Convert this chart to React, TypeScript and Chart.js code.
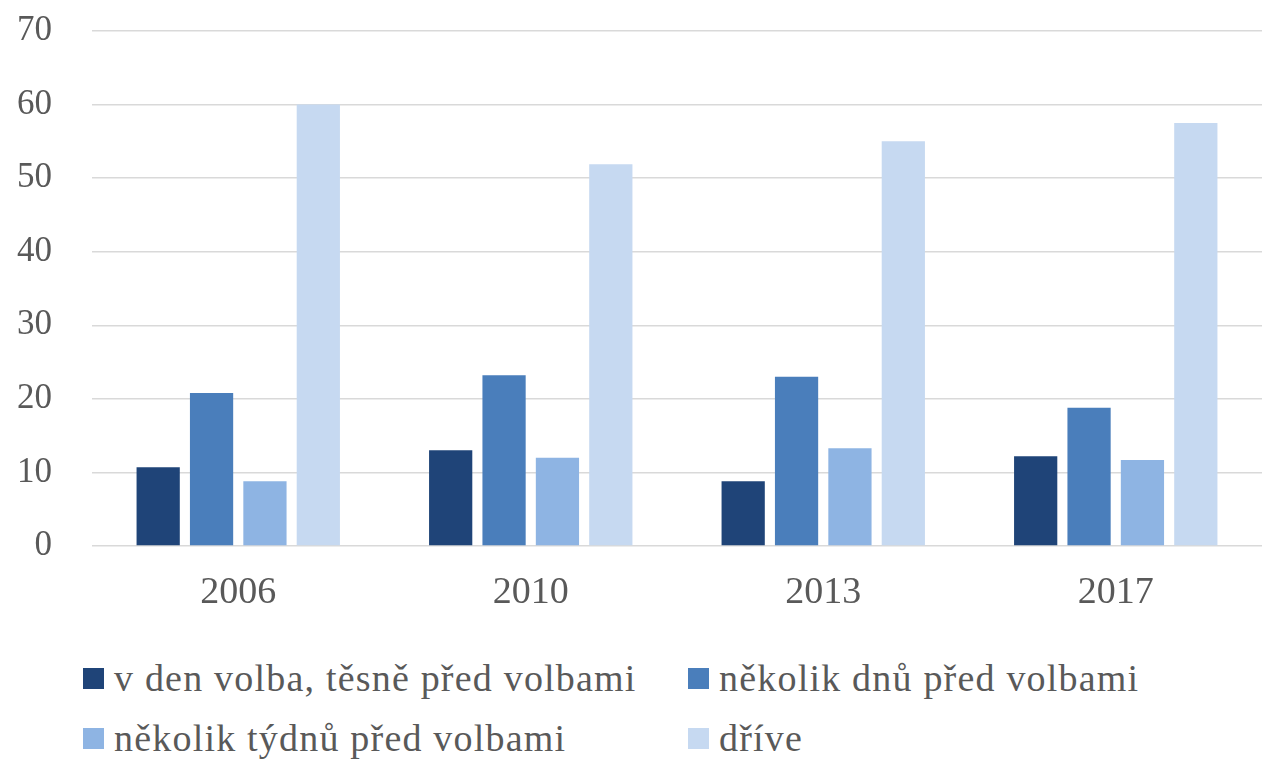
import React, { useEffect, useRef } from "react";
import { Chart, registerables } from "chart.js";

Chart.register(...registerables);

const categories = ["2006", "2010", "2013", "2017"];
const seriesNames = [
  "v den volba, těsně před volbami",
  "několik dnů před volbami",
  "několik týdnů před volbami",
  "dříve",
];
const dayOf = [10.7, 13.0, 8.8, 12.2];
const daysBefore = [20.8, 23.2, 23.0, 18.8];
const weeksBefore = [8.8, 12.0, 13.3, 11.7];
const earlier = [60.0, 51.9, 55.0, 57.5];
const colors = ["#1F4478", "#4A7EBB", "#8EB4E3", "#C6D9F1"];
const yTicks = [0, 10, 20, 30, 40, 50, 60, 70];

const FONT = '"Liberation Serif", "Times New Roman", serif';
const TEXT = "#595959";

export default function App() {
  const ref = useRef<HTMLCanvasElement | null>(null);

  useEffect(() => {
    document.documentElement.style.overflow = "hidden";
    document.body.style.overflow = "hidden";
    if (!ref.current) return;
    const values = [dayOf, daysBefore, weeksBefore, earlier];
    const chart = new Chart(ref.current, {
      type: "bar",
      data: {
        labels: categories,
        datasets: values.map((v, i) => ({
          label: seriesNames[i],
          data: v,
          backgroundColor: colors[i],
          borderWidth: 0,
          categoryPercentage: 0.73,
          barPercentage: 0.81,
        })),
      },
      options: {
        animation: false,
        responsive: false,
        maintainAspectRatio: false,
        layout: { padding: { top: 23, right: 4, left: 0, bottom: 0 } },
        plugins: {
          legend: { display: false },
          tooltip: { enabled: false },
        },
        scales: {
          x: {
            grid: { display: false, drawTicks: false },
            border: { display: false },
            ticks: {
              color: TEXT,
              font: { family: FONT, size: 38 },
              padding: 24,
            },
            afterFit: (s: any) => {
              s.height = 70;
              s.paddingLeft = 0;
              s.paddingRight = 0;
            },
          },
          y: {
            min: 0,
            max: 70,
            afterBuildTicks: (s: any) => {
              s.ticks = yTicks.map((v) => ({ value: v }));
            },
            grid: { color: "#D9D9D9", lineWidth: 1.5, drawTicks: false },
            border: { display: false },
            ticks: {
              color: TEXT,
              font: { family: FONT, size: 35 },
              padding: 40,
            },
            afterFit: (s: any) => {
              s.width = 84;
              s.paddingTop = 0;
              s.paddingBottom = 0;
            },
          },
        },
      },
    });
    return () => chart.destroy();
  }, []);

  const legendItem = (i: number) => (
    <div
      key={i}
      style={{
        display: "flex",
        alignItems: "center",
        color: TEXT,
        fontFamily: FONT,
        fontSize: 38,
        letterSpacing: "1.2px",
        lineHeight: "40px",
        whiteSpace: "nowrap",
      }}
    >
      <span
        style={{
          display: "inline-block",
          width: 21,
          height: 21,
          background: colors[i],
          marginRight: 10,
        }}
      />
      {seriesNames[i]}
    </div>
  );

  const pos = (left: number, top: number): React.CSSProperties => ({
    position: "absolute",
    left,
    top,
    height: 40,
    display: "flex",
    alignItems: "center",
  });

  return (
    <div style={{ position: "relative", width: 1258, height: 751 }}>
      <canvas
        ref={ref}
        width={1258}
        height={608}
        style={{ position: "absolute", left: 0, top: 0, width: 1258, height: 608 }}
      />
      <div style={pos(75, 650)}>{legendItem(0)}</div>
      <div style={pos(680, 650)}>{legendItem(1)}</div>
      <div style={pos(75, 710)}>{legendItem(2)}</div>
      <div style={pos(680, 710)}>{legendItem(3)}</div>
    </div>
  );
}
